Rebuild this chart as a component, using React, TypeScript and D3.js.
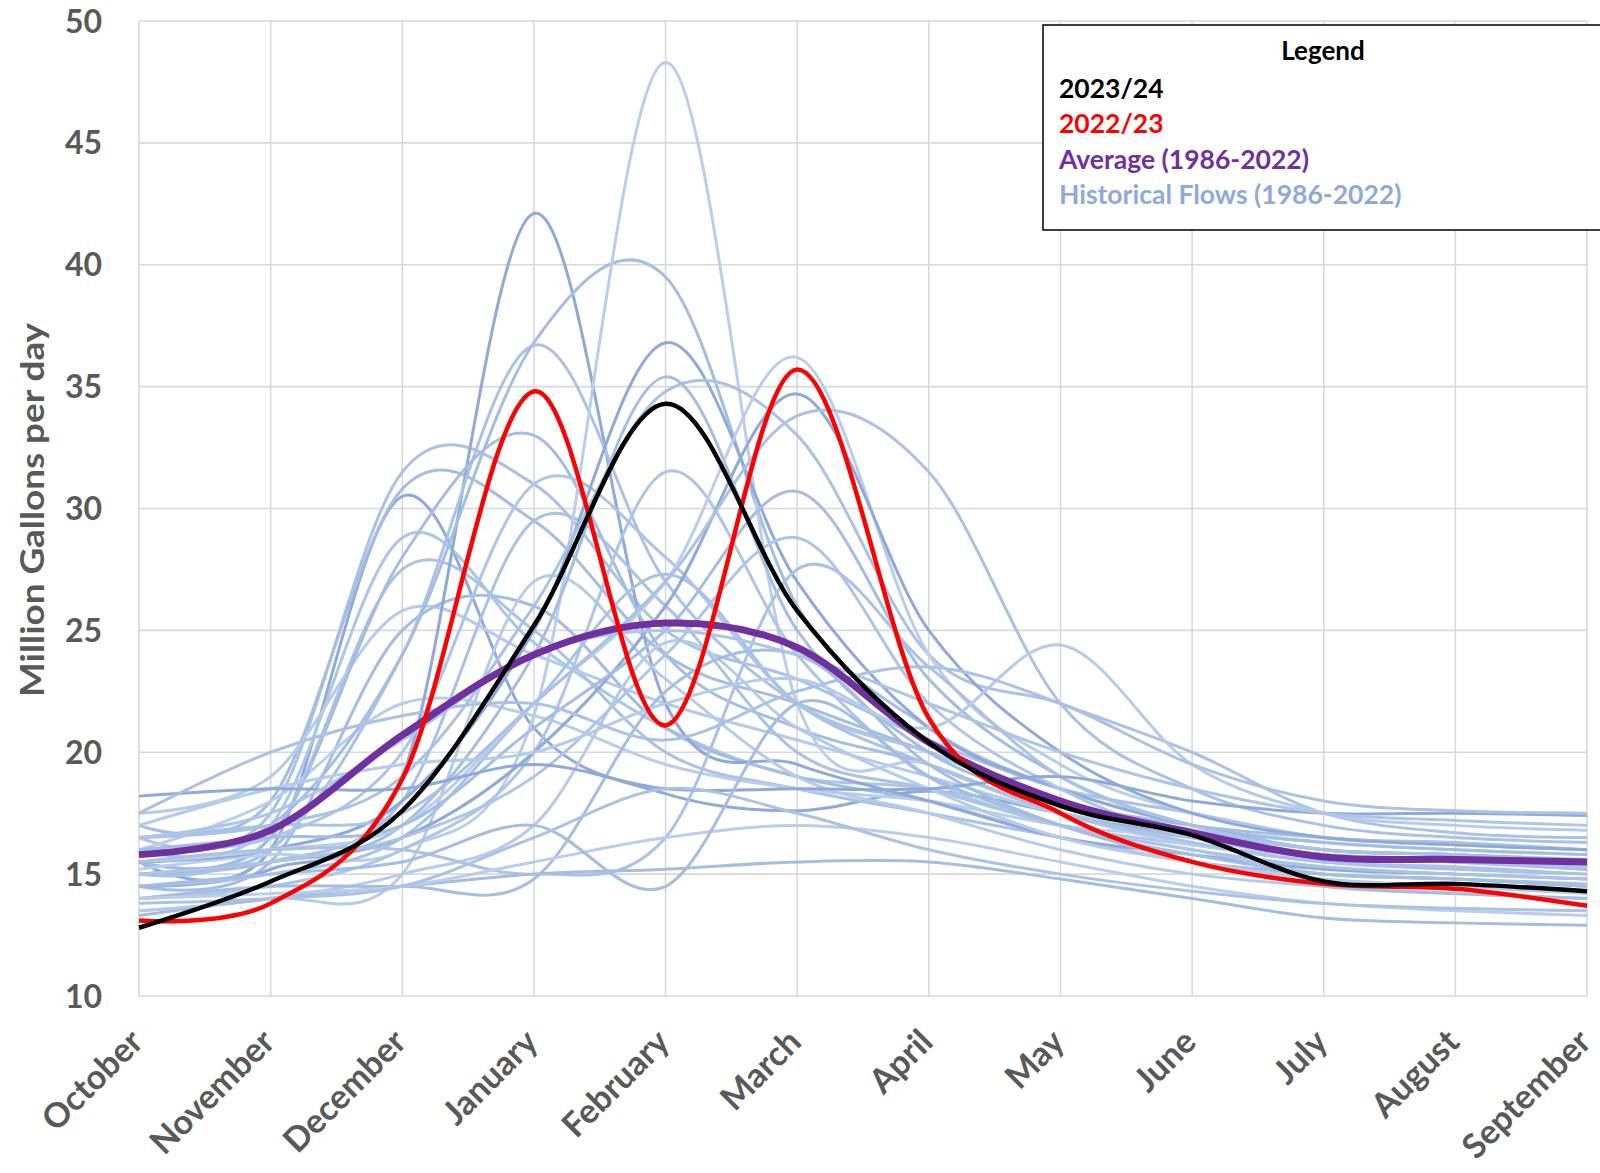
import React from "react";
import * as d3 from "d3";

const months = ["October","November","December","January","February","March","April","May","June","July","August","September"];
const yTicks = [10, 15, 20, 25, 30, 35, 40, 45, 50];

const flows2023_24 = [12.8, 14.7, 17.6, 25.2, 34.3, 25.8, 20.4, 17.8, 16.6, 14.7, 14.6, 14.3];
const flows2022_23 = [13.1, 13.8, 18.9, 34.8, 21.1, 35.7, 21.4, 17.5, 15.5, 14.6, 14.4, 13.7];
const average1986_2022 = [15.8, 16.8, 20.7, 24.0, 25.3, 24.3, 20.4, 18.0, 16.7, 15.7, 15.6, 15.5];

// Historical flows (1986-2022), one array per year
const historicalFlows: number[][] = [
  [15.5, 16.0, 30.5, 21.0, 18.3, 17.6, 18.4, 17.5, 16.5, 15.8, 15.6, 15.5],
  [16.5, 17.5, 31.5, 31.0, 25.0, 23.0, 20.5, 18.5, 17.5, 16.5, 16.3, 16.0],
  [17.0, 18.0, 30.8, 29.5, 24.0, 22.0, 20.0, 18.0, 17.0, 16.5, 16.2, 16.0],
  [16.0, 17.0, 28.8, 24.5, 21.0, 19.0, 18.5, 17.0, 16.2, 15.5, 15.3, 15.0],
  [15.0, 16.5, 27.5, 25.0, 20.0, 18.5, 17.5, 16.5, 15.5, 15.0, 14.8, 14.6],
  [17.5, 19.0, 25.8, 24.0, 22.0, 20.5, 19.0, 17.5, 16.8, 16.3, 16.0, 15.8],
  [14.5, 15.5, 25.0, 26.0, 21.0, 19.0, 18.0, 16.5, 15.5, 15.0, 14.8, 14.5],
  [16.0, 18.0, 22.0, 21.5, 19.5, 18.5, 18.0, 17.0, 16.5, 15.8, 15.6, 15.5],
  [14.5, 15.2, 19.0, 42.1, 22.0, 19.5, 18.0, 16.5, 15.8, 15.2, 15.0, 14.8],
  [15.5, 16.0, 24.0, 36.7, 27.0, 22.0, 20.0, 18.0, 16.8, 16.0, 15.8, 15.6],
  [15.5, 16.5, 28.0, 33.0, 24.0, 21.0, 19.5, 17.5, 16.5, 15.8, 15.5, 15.2],
  [16.0, 16.5, 20.0, 31.0, 28.0, 22.0, 20.0, 18.0, 16.8, 16.0, 15.8, 15.5],
  [15.0, 15.5, 18.0, 29.5, 26.0, 20.0, 18.5, 17.0, 16.0, 15.3, 15.0, 14.8],
  [13.5, 14.0, 15.0, 27.0, 23.0, 19.0, 17.5, 16.0, 15.0, 14.5, 14.2, 14.0],
  [16.0, 17.0, 24.0, 36.8, 39.5, 26.0, 21.0, 18.5, 17.0, 16.3, 16.0, 15.8],
  [15.2, 15.8, 16.0, 21.5, 48.3, 22.0, 19.5, 17.5, 16.2, 15.8, 15.6, 15.4],
  [15.5, 16.0, 18.0, 25.0, 36.8, 27.0, 21.0, 18.5, 17.0, 16.0, 15.8, 15.5],
  [16.5, 17.0, 19.0, 26.0, 34.8, 33.0, 24.0, 22.0, 20.0, 17.5, 16.7, 16.5],
  [15.0, 15.5, 17.0, 24.0, 35.4, 25.0, 20.0, 18.0, 16.5, 15.8, 15.5, 15.2],
  [14.0, 14.5, 16.0, 20.0, 31.5, 24.0, 19.0, 17.0, 16.0, 15.0, 14.8, 14.5],
  [14.5, 15.0, 16.5, 22.0, 27.3, 22.0, 19.5, 17.5, 16.3, 15.5, 15.2, 15.0],
  [13.5, 14.0, 15.0, 17.0, 24.5, 21.0, 18.5, 16.5, 15.5, 14.8, 14.5, 14.2],
  [14.0, 14.5, 14.5, 14.8, 22.5, 24.0, 19.5, 17.0, 15.8, 15.0, 14.8, 14.5],
  [15.5, 16.0, 17.0, 22.0, 27.0, 36.2, 24.0, 19.5, 17.5, 16.5, 16.2, 16.0],
  [15.0, 15.5, 16.5, 20.0, 26.0, 34.7, 25.0, 20.0, 17.5, 16.5, 16.2, 16.0],
  [16.5, 17.0, 17.5, 22.0, 27.0, 33.8, 31.5, 22.0, 18.5, 17.0, 16.5, 16.3],
  [16.0, 16.5, 17.0, 21.0, 25.0, 30.7, 23.0, 19.0, 17.0, 16.0, 15.8, 15.5],
  [15.0, 15.5, 16.5, 19.0, 24.0, 28.8, 22.0, 18.5, 16.5, 15.8, 15.5, 15.3],
  [15.5, 16.0, 16.0, 15.0, 16.5, 27.5, 23.5, 19.0, 17.0, 16.0, 15.8, 15.5],
  [17.0, 18.5, 19.5, 20.0, 22.0, 23.0, 21.0, 24.4, 19.5, 17.5, 17.0, 16.8],
  [13.3, 14.0, 14.5, 15.0, 15.2, 15.5, 15.5, 14.8, 14.0, 13.2, 13.0, 12.9],
  [14.0, 14.2, 14.5, 15.5, 16.5, 17.0, 16.5, 15.5, 14.5, 13.8, 13.5, 13.3],
  [18.2, 18.5, 18.5, 19.5, 18.5, 18.5, 18.5, 19.0, 18.0, 17.5, 17.5, 17.4],
  [17.5, 20.0, 21.5, 22.0, 20.5, 22.5, 23.5, 22.0, 19.5, 18.0, 17.6, 17.5],
  [14.5, 15.0, 15.5, 17.0, 14.5, 22.0, 19.0, 17.0, 15.5, 14.5, 14.2, 14.0],
  [16.5, 17.5, 20.5, 24.0, 25.0, 24.0, 22.0, 20.0, 18.5, 17.5, 17.2, 17.0],
  [13.8, 14.0, 14.5, 16.5, 18.5, 17.5, 16.0, 15.0, 14.3, 13.8, 13.6, 13.5],
];
const historicalShade = ["#8FAADA", "#A9C2E6", "#A4BDE3", "#ADC5E8", "#A9C2E6", "#B5CBEA", "#A4BDE3", "#BACEEB"];

const legendItems = [
  { label: "2023/24", color: "#000000" },
  { label: "2022/23", color: "#FF0000" },
  { label: "Average (1986-2022)", color: "#7030A0" },
  { label: "Historical Flows (1986-2022)", color: "#8EA9DB" },
];

const W = 1600, H = 1173;
const left = 139, right = 1587, top = 21, bottom = 996;
const FONT = "Lato, 'Open Sans', sans-serif";

export default function App() {
  const x = d3.scalePoint<string>().domain(months).range([left, right]);
  const y = d3.scaleLinear().domain([10, 50]).range([bottom, top]);
  const line = d3.line<number>()
    .x((_, i) => x(months[i]) as number)
    .y((d) => y(d))
    .curve(d3.curveCardinal.tension(0));

  return (
    <svg width={W} height={H} style={{ position: "absolute", left: 0, top: 0, background: "#fff" }}>
      <rect x={0} y={0} width={W} height={H} fill="#fff" />
      {yTicks.map((t) => (
        <line key={"gy" + t} x1={left} x2={right} y1={y(t)} y2={y(t)} stroke="#D9D9D9" strokeWidth={1.6} />
      ))}
      {months.map((m) => (
        <line key={"gx" + m} x1={x(m)} x2={x(m)} y1={top} y2={bottom} stroke="#D9D9D9" strokeWidth={1.6} />
      ))}
      {historicalFlows.map((s, i) => (
        <path key={"h" + i} d={line(s) || ""} fill="none" stroke={historicalShade[i % historicalShade.length]} strokeWidth={3} />
      ))}
      <path d={line(average1986_2022) || ""} fill="none" stroke="#7030A0" strokeWidth={7} />
      <path d={line(flows2022_23) || ""} fill="none" stroke="#FF0000" strokeWidth={4.5} />
      <path d={line(flows2023_24) || ""} fill="none" stroke="#000000" strokeWidth={4.5} />
      {yTicks.map((t) => (
        <text key={"ty" + t} x={102} y={y(t)} dy="0.36em" textAnchor="end" fontFamily={FONT} fontWeight={700} fontSize={32} fill="#595959">{t}</text>
      ))}
      {months.map((m) => (
        <text key={"tx" + m} transform={`translate(${(x(m) as number) + 6},${1044}) rotate(-45)`} textAnchor="end" fontFamily={FONT} fontWeight={700} fontSize={34} fill="#595959">{m}</text>
      ))}
      <text transform={`translate(44,${510}) rotate(-90)`} textAnchor="middle" fontFamily={FONT} fontWeight={700} fontSize={33} textLength={374} lengthAdjust="spacingAndGlyphs" fill="#595959">Million Gallons per day</text>
      <rect x={1043} y={25} width={600} height={205} fill="#fff" stroke="#000" strokeWidth={1.5} />
      <text x={1323} y={51} dy="0.36em" textAnchor="middle" fontFamily={FONT} fontWeight={700} fontSize={26} fill="#000">Legend</text>
      {legendItems.map((it, i) => (
        <text key={it.label} x={1059} y={88 + i * 35.5} dy="0.36em" fontFamily={FONT} fontWeight={700} fontSize={26.5} fill={it.color}>{it.label}</text>
      ))}
    </svg>
  );
}
